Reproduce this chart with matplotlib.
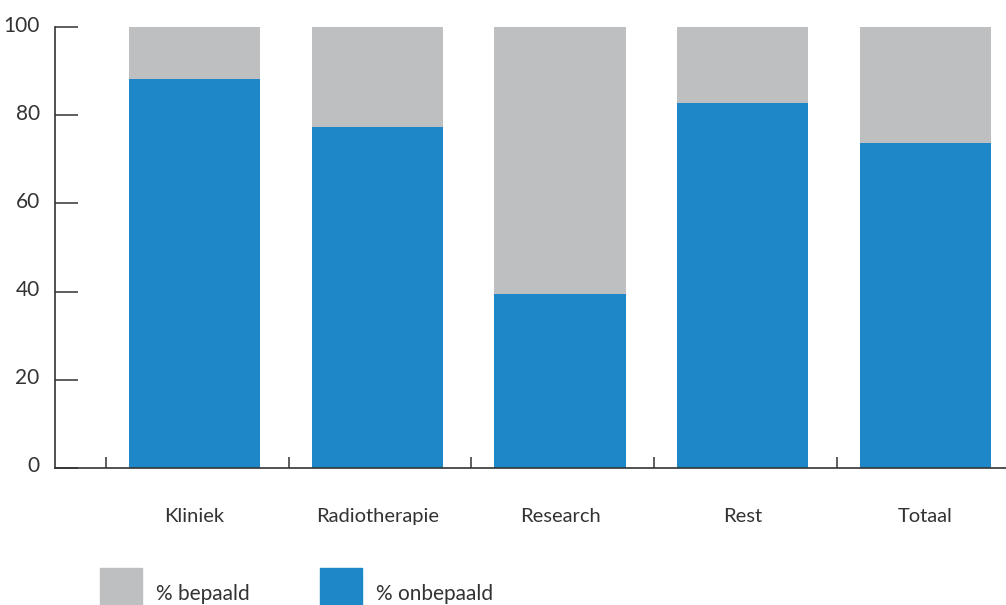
import numpy as np
import matplotlib
matplotlib.use("Agg")
import matplotlib.pyplot as plt
import matplotlib.transforms as mtransforms
from matplotlib.patches import Rectangle

plt.rcParams['font.family'] = ['Lato', 'DejaVu Sans']

categories = ["Kliniek", "Radiotherapie", "Research", "Rest", "Totaal"]
onbepaald = [88.2, 77.3, 39.4, 82.7, 73.6]
bepaald = [100 - v for v in onbepaald]
yticks = [0, 20, 40, 60, 80, 100]
legend_labels = ["% bepaald", "% onbepaald"]

blue = "#1E87C8"
gray = "#BEBFC1"
txt = "#333333"
axc = "#333333"

W, H = 1006, 605
fig = plt.figure(figsize=(W / 100, H / 100), dpi=100)
ax = fig.add_axes([55 / W, 1 - 468 / H, (W - 55) / W, (468 - 27) / H])

x = np.arange(len(categories))
width = 0.717
ax.bar(x, onbepaald, width=width, color=blue, zorder=2)
ax.bar(x, bepaald, width=width, bottom=onbepaald, color=gray, zorder=2)

ax.set_xlim(-0.763, 4.44)
ax.set_ylim(0, 100)

for s in ("top", "right"):
    ax.spines[s].set_visible(False)
for s in ("left", "bottom"):
    ax.spines[s].set_color(axc)
    ax.spines[s].set_linewidth(1.2)
    ax.spines[s].set_zorder(3)

ax.set_yticks(yticks)
ax.set_yticklabels([str(v) for v in yticks])
ax.tick_params(axis="y", direction="in", length=16.5, width=1.1, color=axc,
               pad=11, labelsize=15, labelcolor=txt)
off = mtransforms.ScaledTranslation(0, 0.035, fig.dpi_scale_trans)
for lab in ax.get_yticklabels():
    lab.set_transform(lab.get_transform() + off)

ax.set_xticks(x - 0.485)
ax.set_xticklabels([])
ax.tick_params(axis="x", which="major", direction="in", length=8, width=1.1, color=axc)
ax.set_xticks(x, minor=True)
ax.set_xticklabels(categories, minor=True)
ax.tick_params(axis="x", which="minor", length=0, pad=29, labelsize=14.5, labelcolor=txt)

# legend
fig.patches.append(Rectangle((100 / W, 0), 42 / W, 37 / H, transform=fig.transFigure,
                             color=gray, zorder=1))
fig.patches.append(Rectangle((320 / W, 0), 42 / W, 37 / H, transform=fig.transFigure,
                             color=blue, zorder=1))
fig.text(156 / W, 1 - 594 / H, legend_labels[0], fontsize=15, color=txt, va="center", ha="left")
fig.text(376 / W, 1 - 594 / H, legend_labels[1], fontsize=15, color=txt, va="center", ha="left")

fig.savefig("out.png", dpi=100)
